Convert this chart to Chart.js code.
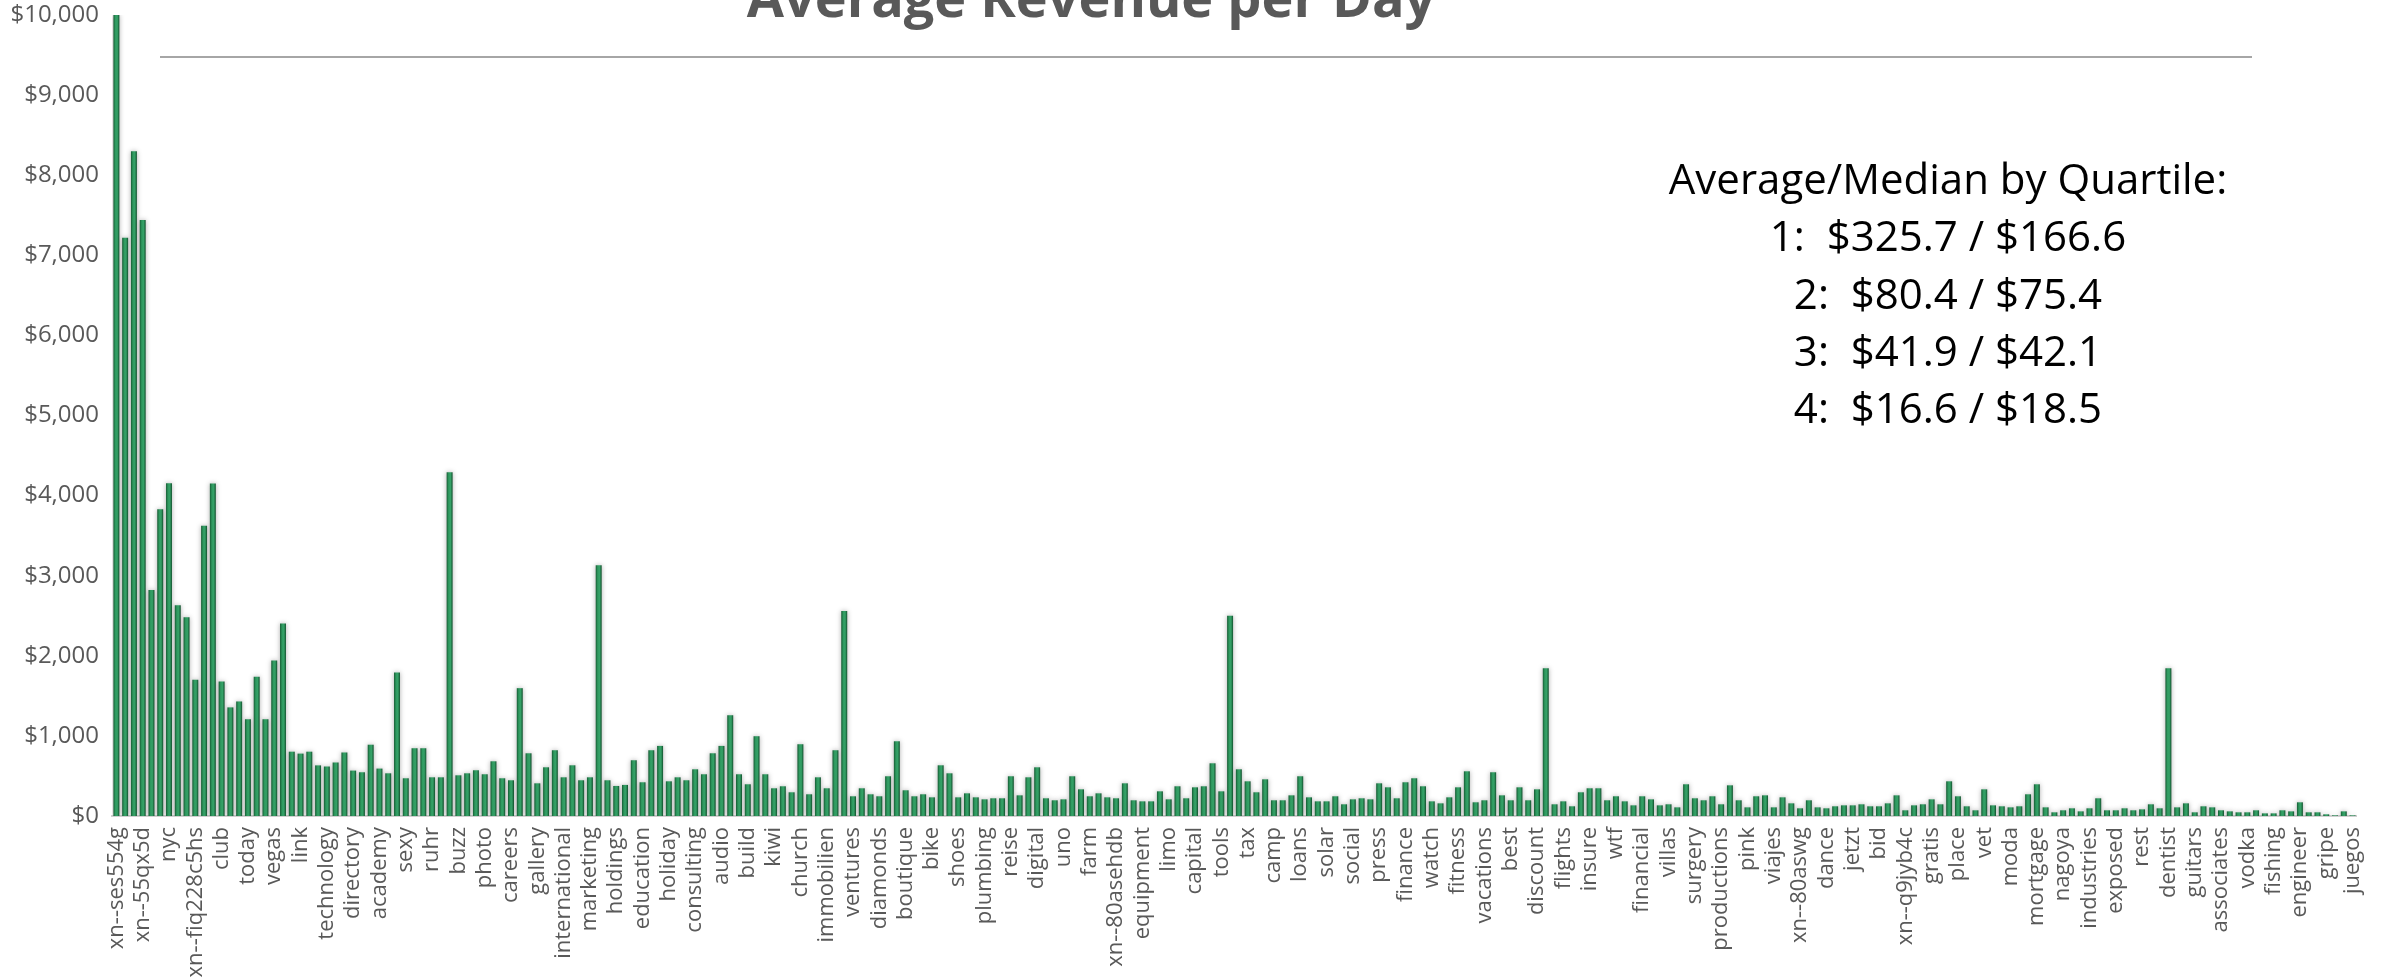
<!DOCTYPE html>
<html><head><meta charset="utf-8">
<script src="https://cdn.jsdelivr.net/npm/chart.js@4.4.1/dist/chart.umd.min.js"></script>
<style>html,body{margin:0;padding:0;background:#fff;overflow:hidden}#wrap{position:relative;width:2390px;height:979px}</style>
</head><body><div id="wrap"><canvas id="c" width="2390" height="979"></canvas></div>
<script>
const chartTitle = 'Average Revenue per Day';

// every third category carries a visible tick label
const tickLabels = ['xn--ses554g','xn--55qx5d','nyc','xn--fiq228c5hs','club','today','vegas','link','technology','directory',
'academy','sexy','ruhr','buzz','photo','careers','gallery','international','marketing','holdings',
'education','holiday','consulting','audio','build','kiwi','church','immobilien','ventures','diamonds',
'boutique','bike','shoes','plumbing','reise','digital','uno','farm','xn--80asehdb','equipment',
'limo','capital','tools','tax','camp','loans','solar','social','press','finance',
'watch','fitness','vacations','best','discount','flights','insure','wtf','financial','villas',
'surgery','productions','pink','viajes','xn--80aswg','dance','jetzt','bid','xn--q9jyb4c','gratis',
'place','vet','moda','mortgage','nagoya','industries','exposed','rest','dentist','guitars',
'associates','vodka','fishing','engineer','gripe','juegos'];
const labelEvery = 3;

const revenue = [
10000,7220,8300,7440,2820,3830,4155,2630,2480,1700,
3623,4150,1678,1356,1430,1208,1740,1208,1941,2403,
803,779,803,632,618,668,793,567,546,890,
592,533,1792,471,846,846,483,483,4290,508,
533,571,521,683,471,446,1596,783,408,608,
821,483,633,446,483,3130,446,375,388,696,
421,821,875,433,483,446,583,521,783,875,
1258,521,396,996,521,346,371,296,896,271,
483,346,821,2560,246,346,271,246,496,933,
321,246,271,233,633,533,233,283,233,208,
221,221,496,258,483,608,221,196,208,496,
333,246,283,233,221,408,196,183,183,308,
208,371,221,358,371,658,308,2500,583,433,
296,458,196,196,258,496,233,183,183,246,
146,208,221,208,408,358,221,421,471,371,
183,158,233,358,558,171,196,546,258,196,
358,196,333,1845,146,183,121,296,346,346,
196,246,183,133,246,208,133,146,108,396,
221,196,246,146,383,196,108,246,258,108,
233,158,96,196,108,96,121,133,133,146,
121,121,158,258,71,133,146,208,146,433,
246,121,71,333,133,121,108,121,271,396,
108,46,71,96,58,96,221,71,71,96,
71,83,146,96,1845,108,158,46,121,108,
71,58,46,46,71,33,33,71,58,171,
46,46,21,8,58,8];

const noteLines = ['Average/Median by Quartile:','1:  $325.7 / $166.6','2:  $80.4 / $75.4','3:  $41.9 / $42.1','4:  $16.6 / $18.5'];

const categories = revenue.map((v, i) => (i % labelEvery === 0 ? tickLabels[i / labelEvery] : ''));

const FONT = '"Open Sans", "Noto Sans", sans-serif';
const GREY = '#595959';

const decor = {
  id: 'decor',
  beforeDatasetsDraw(chart) {
    const ctx = chart.ctx;
    ctx.save();
    ctx.shadowColor = 'rgba(0,0,0,0.32)';
    ctx.shadowBlur = 5;
    ctx.shadowOffsetX = 0;
    ctx.shadowOffsetY = 0;
  },
  afterDatasetsDraw(chart) {
    chart.ctx.restore();
  },
  afterDraw(chart) {
    const ctx = chart.ctx;
    ctx.save();
    ctx.fillStyle = GREY;
    ctx.font = 'bold 54px ' + FONT;
    ctx.textAlign = 'center';
    ctx.textBaseline = 'alphabetic';
    ctx.fillText(chartTitle, 1091, 17);
    ctx.strokeStyle = '#a6a6a6';
    ctx.lineWidth = 2;
    ctx.beginPath();
    ctx.moveTo(160, 57);
    ctx.lineTo(2252, 57);
    ctx.stroke();
    ctx.fillStyle = '#000';
    ctx.font = '42px ' + FONT;
    noteLines.forEach((t, k) => ctx.fillText(t, 1948, 194 + k * 57.3));
    ctx.restore();
  }
};

function barFill(c) {
  const chart = c.chart;
  const xs = chart.scales && chart.scales.x;
  if (!xs || c.dataIndex === undefined) return '#2a8f58';
  const px = xs.getPixelForValue(c.dataIndex);
  if (!isFinite(px)) return '#2a8f58';
  const g = chart.ctx.createLinearGradient(px - 3, 0, px + 3, 0);
  g.addColorStop(0, '#155c33');
  g.addColorStop(0.35, '#2f9a60');
  g.addColorStop(0.65, '#35a167');
  g.addColorStop(1, '#11502c');
  return g;
}

new Chart(document.getElementById('c'), {
  type: 'bar',
  data: {
    labels: categories,
    datasets: [{
      data: revenue,
      backgroundColor: barFill,
      borderWidth: 0,
      barPercentage: 0.68,
      categoryPercentage: 1.0
    }]
  },
  options: {
    responsive: false,
    animation: false,
    events: [],
    layout: { padding: { left: 0, right: 29, top: 0, bottom: 0 } },
    plugins: { legend: { display: false }, title: { display: false }, tooltip: { enabled: false } },
    scales: {
      x: {
        grid: { display: false, drawTicks: false },
        border: { display: true, color: '#d0d0d0', width: 2 },
        ticks: {
          autoSkip: false, maxRotation: 90, minRotation: 90, padding: 11,
          color: GREY, font: { family: FONT, size: 22 }
        },
        afterFit(s) { s.height = 163; }
      },
      y: {
        min: 0, max: 10000,
        grid: { display: false, drawTicks: false },
        border: { display: false },
        ticks: {
          stepSize: 1000, padding: 13, color: GREY,
          font: { family: FONT, size: 24 },
          callback: v => '$' + Number(v).toLocaleString('en-US')
        },
        afterFit(s) { s.width = 112; s.paddingTop = 15; s.paddingBottom = 0; }
      }
    }
  },
  plugins: [decor]
});
</script>
</body></html>
